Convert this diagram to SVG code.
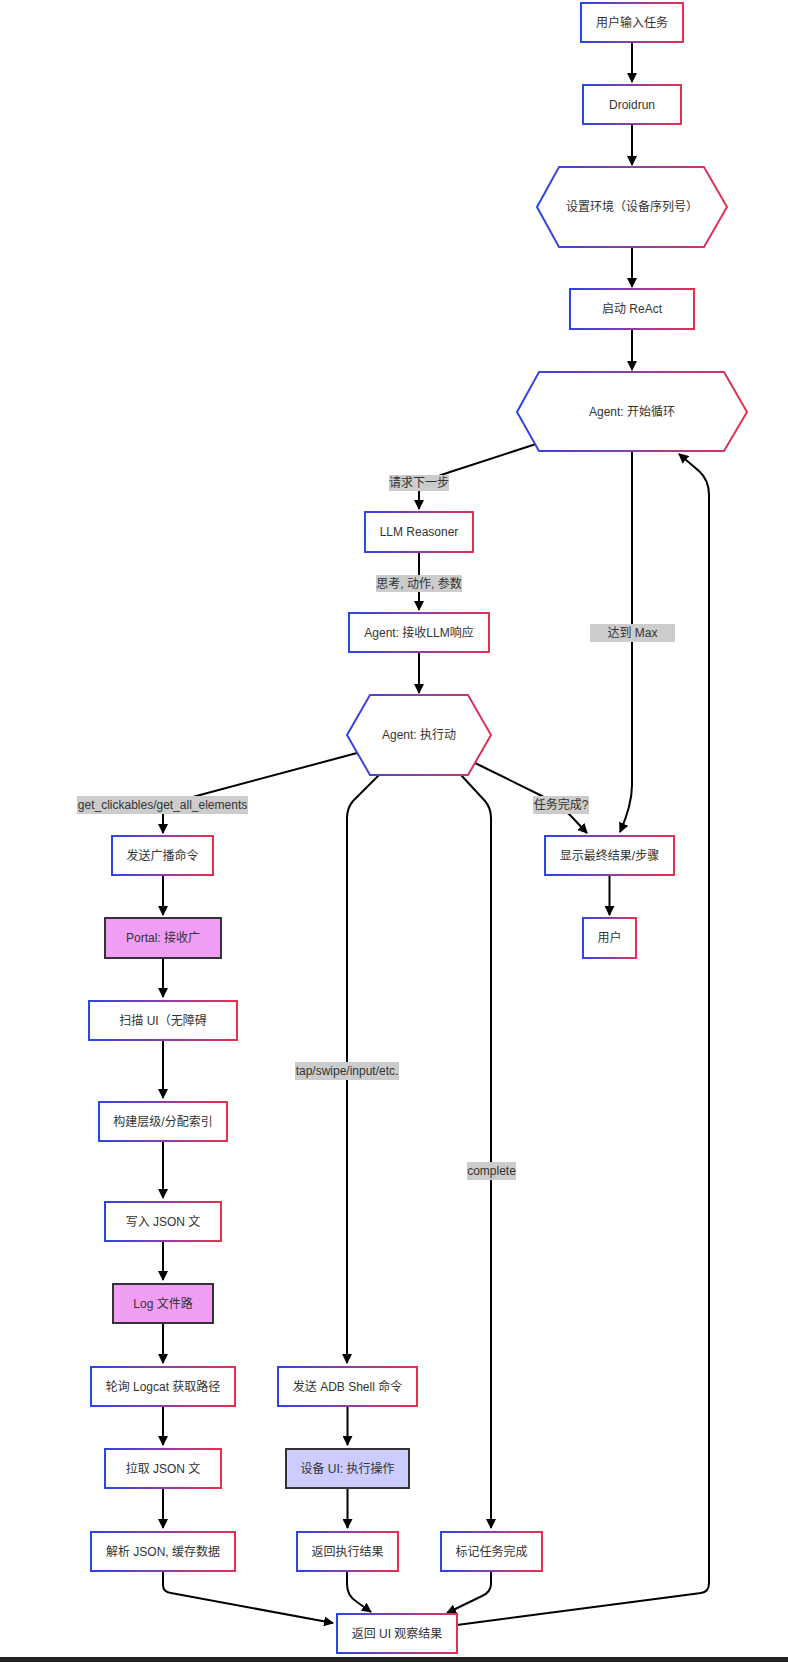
<svg xmlns="http://www.w3.org/2000/svg" width="788" height="1662" viewBox="0 0 788 1662">
<style>
.n{fill:#fff;stroke:url(#g);stroke-width:2}
.p{fill:#f09ef4;stroke:#333;stroke-width:2}
.l{fill:#ccccff;stroke:#333;stroke-width:2}
.t{font-family:"Liberation Sans","Noto Sans CJK SC",sans-serif;font-size:12px;fill:#333;text-anchor:middle;dominant-baseline:central}
.e{fill:none;stroke:#000;stroke-width:2;marker-end:url(#a)}
.lb{fill:#cccccc}
</style>
<defs>
<linearGradient id="g" x1="0" y1="0" x2="1" y2="0">
<stop offset="0" stop-color="#2a45e8"/>
<stop offset="0.5" stop-color="#8a3fa8"/>
<stop offset="1" stop-color="#e8304c"/>
</linearGradient>
<marker id="a" viewBox="0 0 10 10" refX="9" refY="5" markerWidth="10" markerHeight="10" markerUnits="userSpaceOnUse" orient="auto">
<path d="M0,0 L10,5 L0,10 z" fill="#000"/>
</marker>
</defs>
<rect x="0" y="0" width="788" height="1662" fill="#fff"/>
<g id="connectors">
<path class="e" d="M632,42 V82"/>
<path class="e" d="M632,124 V165"/>
<path class="e" d="M632,247 V287"/>
<path class="e" d="M632,329 V370"/>
<path class="e" d="M536,444 L450,472 Q419,482 419,492 V509"/>
<path class="e" d="M419,552 V610"/>
<path class="e" d="M419,652 V693"/>
<path class="e" d="M357,753 L200,795 Q163,805 163,815 V833"/>
<path class="e" d="M379,775 L353,801 Q347,808 347,818 V1363"/>
<path class="e" d="M461,775 L485,801 Q491,808 491,818 V1528"/>
<path class="e" d="M475,763 L540,795 Q560,805 570,815 L587,833"/>
<path class="e" d="M632,451 V785 Q632,805 620,832"/>
<path class="e" d="M609.5,875 V915"/>
<path class="e" d="M163,875 V915"/>
<path class="e" d="M163,958 V997"/>
<path class="e" d="M163,1040 V1098"/>
<path class="e" d="M163,1141 V1198"/>
<path class="e" d="M163,1241 V1280"/>
<path class="e" d="M163,1323 V1363"/>
<path class="e" d="M163,1406 V1445"/>
<path class="e" d="M163,1488 V1528"/>
<path class="e" d="M347.5,1406 V1445"/>
<path class="e" d="M347.5,1488 V1528"/>
<path class="e" d="M163,1571 V1585 Q163,1592 171,1593 L333,1623"/>
<path class="e" d="M347,1571 V1584 Q347,1596 357,1602 L371,1612"/>
<path class="e" d="M491,1571 V1584 Q491,1592 482,1596 L447,1613"/>
<path class="e" d="M457,1625 L701,1593 Q709,1592 709,1583 V495 Q709,480 699,471 L679,454"/>
<g id="edge-labels">
<rect class="lb" x="389" y="475" width="60" height="16"/><text class="t" x="419" y="483">请求下一步</text>
<rect class="lb" x="376" y="575" width="86" height="17"/><text class="t" x="419" y="583.5">思考, 动作, 参数</text>
<rect class="lb" x="77" y="796" width="171" height="18"/><text class="t" x="162.5" y="805">get_clickables/get_all_elements</text>
<rect class="lb" x="533" y="796" width="56" height="18"/><text class="t" x="561" y="805">任务完成?</text>
<rect class="lb" x="590" y="624" width="85" height="18"/><text class="t" x="632.5" y="633">达到 Max</text>
<rect class="lb" x="295" y="1062" width="104" height="18"/><text class="t" x="347" y="1071">tap/swipe/input/etc.</text>
<rect class="lb" x="467" y="1162" width="49" height="18"/><text class="t" x="491.5" y="1171">complete</text>
</g>
</g>
<g id="n1"><rect class="n" x="581" y="3" width="102" height="39"/><text class="t" x="632" y="22.5">用户输入任务</text></g>
<g id="n2"><rect class="n" x="583" y="85" width="98" height="39"/><text class="t" x="632" y="104.5">Droidrun</text></g>
<g id="n3"><polygon class="n" points="537,207 559,167 704,167 727,207 704,247 559,247"/><text class="t" x="632" y="207">设置环境（设备序列号）</text></g>
<g id="n4"><rect class="n" x="570" y="289" width="124" height="40"/><text class="t" x="632" y="309">启动 ReAct</text></g>
<g id="n5"><polygon class="n" points="517,412 539,372 724,372 747,412 724,451 539,451"/><text class="t" x="632" y="412">Agent: 开始循环</text></g>
<g id="n6"><rect class="n" x="365" y="512" width="108" height="40"/><text class="t" x="419" y="532">LLM Reasoner</text></g>
<g id="n7"><rect class="n" x="349" y="613" width="140" height="39"/><text class="t" x="419" y="632.5">Agent: 接收LLM响应</text></g>
<g id="n8"><polygon class="n" points="347,735 370,695 468,695 491,735 468,775 370,775"/><text class="t" x="419" y="735">Agent: 执行动</text></g>
<g id="n9"><rect class="n" x="112" y="836" width="101" height="39"/><text class="t" x="162.5" y="855.5">发送广播命令</text></g>
<g id="n10"><rect class="p" x="105" y="918" width="116" height="40"/><text class="t" x="163" y="938">Portal: 接收广</text></g>
<g id="n11"><rect class="n" x="89" y="1001" width="148" height="39"/><text class="t" x="163" y="1020.5">扫描 UI（无障碍</text></g>
<g id="n12"><rect class="n" x="99" y="1102" width="128" height="39"/><text class="t" x="163" y="1121.5">构建层级/分配索引</text></g>
<g id="n13"><rect class="n" x="105" y="1202" width="116" height="39"/><text class="t" x="163" y="1221.5">写入 JSON 文</text></g>
<g id="n14"><rect class="p" x="113" y="1284" width="100" height="39"/><text class="t" x="163" y="1303.5">Log 文件路</text></g>
<g id="n15"><rect class="n" x="91" y="1367" width="144" height="39"/><text class="t" x="163" y="1386.5">轮询 Logcat 获取路径</text></g>
<g id="n16"><rect class="n" x="105" y="1449" width="116" height="39"/><text class="t" x="163" y="1468.5">拉取 JSON 文</text></g>
<g id="n17"><rect class="n" x="91" y="1532" width="144" height="39"/><text class="t" x="163" y="1551.5">解析 JSON, 缓存数据</text></g>
<g id="n18"><rect class="n" x="278" y="1367" width="139" height="39"/><text class="t" x="347.5" y="1386.5">发送 ADB Shell 命令</text></g>
<g id="n19"><rect class="l" x="286" y="1449" width="123" height="39"/><text class="t" x="347.5" y="1468.5">设备 UI: 执行操作</text></g>
<g id="n20"><rect class="n" x="297" y="1532" width="101" height="39"/><text class="t" x="347.5" y="1551.5">返回执行结果</text></g>
<g id="n21"><rect class="n" x="441" y="1532" width="101" height="39"/><text class="t" x="491.5" y="1551.5">标记任务完成</text></g>
<g id="n22"><rect class="n" x="337" y="1614" width="120" height="39"/><text class="t" x="397" y="1633.5">返回 UI 观察结果</text></g>
<g id="n23"><rect class="n" x="545" y="836" width="129" height="39"/><text class="t" x="609.5" y="855.5">显示最终结果/步骤</text></g>
<g id="n24"><rect class="n" x="583" y="918" width="53" height="40"/><text class="t" x="609.5" y="938">用户</text></g>
<rect x="0" y="1657" width="788" height="5" fill="#232323"/>
</svg>
